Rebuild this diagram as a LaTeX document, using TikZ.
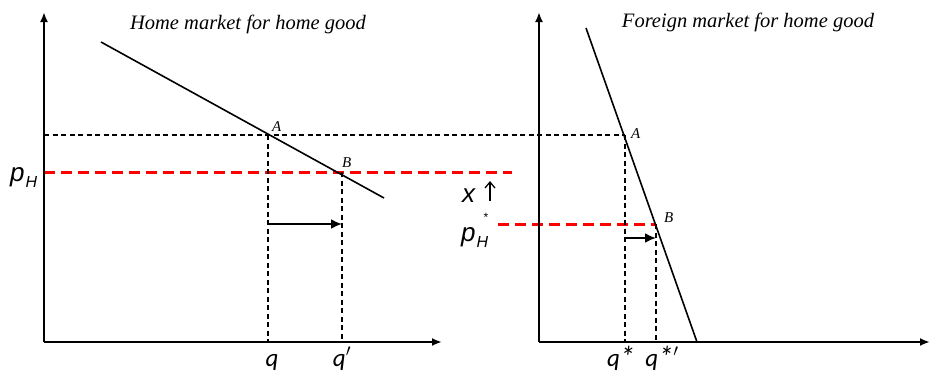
\documentclass[tikz,border=0pt]{standalone}
\usepackage{fontspec}
\setmainfont{Liberation Serif}
\newfontfamily\lsans{Liberation Sans}
\newfontfamily\carl{Carlito}
\usetikzlibrary{arrows.meta}
\begin{document}
\begin{tikzpicture}[x=1pt,y=-1pt,
  axis/.style={line width=2.4pt,-{Latex[length=10pt,width=8pt]}},
  demand/.style={line width=1.6pt},
  bdash/.style={line width=2.2pt,dash pattern=on 5pt off 3.5pt},
  rdash/.style={line width=3pt,red,dash pattern=on 11pt off 6pt},
  shiftarrow/.style={line width=2pt,-{Latex[length=11pt,width=10pt]}},
  ptlab/.style={font=\itshape\fontsize{15}{15}\selectfont,inner sep=0pt,anchor=base west},
  qlab/.style={font=\carl\itshape\fontsize{25}{25}\selectfont,inner sep=0pt,anchor=base},
  title/.style={font=\itshape\fontsize{20.5}{20.5}\selectfont,inner sep=0pt,anchor=base},
  plab/.style={font=\lsans\itshape\fontsize{26}{26}\selectfont,inner sep=0pt,anchor=base west}]
\useasboundingbox (0,0) rectangle (930,376);
% coordinates
\coordinate (O1) at (44,342);
\coordinate (Y1) at (44,12);
\coordinate (X1) at (442,342);
\coordinate (O2) at (539,342);
\coordinate (Y2) at (539,12);
\coordinate (X2) at (930,342);
\coordinate (D1s) at (101,42);
\coordinate (D1e) at (384,198);
\coordinate (D2s) at (586,28);
\coordinate (D2e) at (697,342);
\coordinate (A1) at (268,135);
\coordinate (B1) at (342,172);
\coordinate (A2) at (625,135);
\coordinate (B2) at (656,224);
\coordinate (bl) at (44,135);
\coordinate (rl) at (44,172);
\coordinate (rr) at (512,172);
\coordinate (r2l) at (498,224);
\coordinate (qA1) at (268,342);
\coordinate (qB1) at (342,342);
\coordinate (qA2) at (625,342);
\coordinate (qB2) at (656,342);
\coordinate (s1a) at (268,224);
\coordinate (s1b) at (342,224);
\coordinate (s2a) at (625,238);
\coordinate (s2b) at (656,238);
% dashed lines
\draw[bdash] (bl) -- (A2);
\draw[rdash] (rl) -- (rr);
\draw[rdash] (r2l) -- (B2);
\draw[bdash] (A1) -- (qA1);
\draw[bdash] (B1) -- (qB1);
\draw[bdash] (A2) -- (qA2);
\draw[bdash] (B2) -- (qB2);
% axes
\draw[axis] (O1) -- (Y1);
\draw[axis] (O1) -- (X1);
\draw[axis] (O2) -- (Y2);
\draw[axis] (O2) -- (X2);
% demand
\draw[demand] (D1s) -- (D1e);
\draw[demand] (D2s) -- (D2e);
% shifts
\draw[shiftarrow] (s1a) -- (s1b);
\draw[shiftarrow] (s2a) -- (s2b);
% labels
\node[ptlab] (lA1) at (272,131) {A};
\node[ptlab] (lB1) at (342,167) {B};
\node[ptlab] (lA2) at (631,138) {A};
\node[ptlab] (lB2) at (664,222) {B};
\node[title] (t1) at (248,29) {Home market for home good};
\node[title] (t2) at (748,27) {Foreign market for home good};
\node[qlab] (lq) at (272,366) {q};
\node[qlab] (lqp) at (342,366) {q$'$};
\node[qlab] (lqs) at (621,366) {q\raisebox{-1pt}{\fontsize{30}{30}\selectfont *}};
\node[qlab] (lqsp) at (662,366) {q\raisebox{-1pt}{\fontsize{30}{30}\selectfont *}$'$};
\node[plab] (pH) at (10,181) {p\kern1pt\raisebox{-6pt}{\fontsize{16}{16}\selectfont H}};
\node[plab] (pHs) at (461,241) {p\kern1pt\raisebox{-6pt}{\fontsize{16}{16}\selectfont H}\kern-5pt\raisebox{20pt}{\fontsize{12}{12}\selectfont *}};
\node[plab] (xlab) at (462,202) {x};
\coordinate (upb) at (490,201);
\coordinate (upt) at (490,181);
\draw[line width=1.3pt,-{Straight Barb[length=6pt,width=10pt]}] (upb) -- (upt);
\end{tikzpicture}
\end{document}
